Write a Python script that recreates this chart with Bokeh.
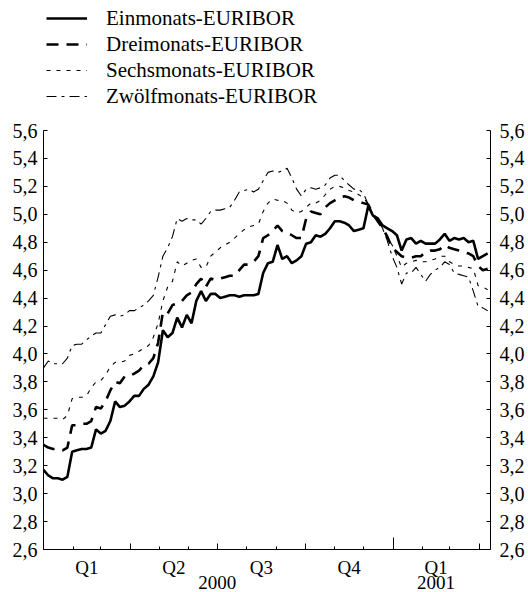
from bokeh.plotting import figure
from bokeh.models import (Range1d, LinearAxis, FixedTicker, CustomJSTickFormatter,
                          Legend, LegendItem, ColumnDataSource)
from bokeh.embed import file_html
from bokeh.resources import INLINE

# ---- data: days since 1 Jan 2000 (5-day sampling), values in % ----
day = list(range(0, 466, 5))

euribor_1m = [3.17, 3.13, 3.11, 3.11, 3.10, 3.12, 3.30, 3.31, 3.32, 3.32,
              3.33, 3.46, 3.43, 3.45, 3.52, 3.66, 3.62, 3.63, 3.66, 3.70,
              3.70, 3.75, 3.78, 3.84, 3.94, 4.17, 4.12, 4.15, 4.26, 4.19,
              4.28, 4.22, 4.38, 4.45, 4.38, 4.43, 4.43, 4.40, 4.41, 4.42,
              4.42, 4.41, 4.42, 4.42, 4.42, 4.43, 4.58, 4.65, 4.66, 4.78,
              4.68, 4.70, 4.65, 4.67, 4.70, 4.79, 4.80, 4.85, 4.84, 4.86,
              4.90, 4.95, 4.95, 4.94, 4.92, 4.88, 4.89, 4.90, 5.06, 4.99,
              4.97, 4.92, 4.90, 4.88, 4.85, 4.74, 4.82, 4.83, 4.79, 4.81,
              4.79, 4.79, 4.79, 4.82, 4.86, 4.81, 4.83, 4.82, 4.83, 4.80,
              4.81, 4.68, 4.70, 4.72]

euribor_3m = [3.35, 3.33, 3.32, 3.32, 3.31, 3.33, 3.49, 3.49, 3.50, 3.50,
              3.52, 3.62, 3.61, 3.66, 3.74, 3.80, 3.79, 3.84, 3.84, 3.86,
              3.88, 3.92, 3.93, 3.97, 4.08, 4.30, 4.29, 4.35, 4.36, 4.38,
              4.42, 4.44, 4.50, 4.54, 4.48, 4.54, 4.53, 4.54, 4.55, 4.56,
              4.56, 4.60, 4.64, 4.64, 4.66, 4.70, 4.83, 4.85, 4.88, 4.92,
              4.88, 4.87, 4.85, 4.83, 4.83, 4.97, 5.02, 5.01, 5.00, 5.05,
              5.08, 5.10, 5.12, 5.13, 5.12, 5.10, 5.09, 5.08, 5.07, 5.00,
              4.95, 4.90, 4.84, 4.76, 4.73, 4.70, 4.69, 4.69, 4.70, 4.70,
              4.73, 4.74, 4.74, 4.75, 4.78, 4.76, 4.75, 4.74, 4.73, 4.72,
              4.70, 4.63, 4.60, 4.61]

euribor_6m = [3.54, 3.54, 3.54, 3.54, 3.53, 3.56, 3.68, 3.69, 3.69, 3.70,
              3.76, 3.80, 3.81, 3.85, 3.91, 3.94, 3.94, 3.95, 3.99, 4.00,
              4.02, 4.04, 4.06, 4.12, 4.22, 4.38, 4.48, 4.52, 4.66, 4.63,
              4.65, 4.67, 4.68, 4.62, 4.62, 4.70, 4.73, 4.76, 4.78, 4.80,
              4.83, 4.86, 4.89, 4.91, 4.92, 4.93, 5.02, 5.08, 5.11, 5.10,
              5.10, 5.08, 5.03, 5.01, 5.02, 5.05, 5.08, 5.08, 5.10, 5.14,
              5.18, 5.20, 5.20, 5.19, 5.17, 5.16, 5.14, 5.12, 5.07, 5.00,
              4.96, 4.90, 4.83, 4.78, 4.70, 4.62, 4.65, 4.66, 4.67, 4.66,
              4.66, 4.67, 4.68, 4.70, 4.70, 4.66, 4.64, 4.63, 4.63, 4.62,
              4.61, 4.49, 4.48, 4.46]

euribor_12m = [3.90, 3.95, 3.93, 3.93, 3.93, 3.97, 4.06, 4.07, 4.07, 4.10,
               4.13, 4.15, 4.15, 4.21, 4.27, 4.28, 4.27, 4.28, 4.31, 4.31,
               4.33, 4.35, 4.38, 4.42, 4.55, 4.70, 4.76, 4.84, 4.97, 4.95,
               4.97, 4.96, 4.96, 4.93, 4.97, 5.02, 5.03, 5.03, 5.04, 5.05,
               5.10, 5.16, 5.17, 5.18, 5.16, 5.18, 5.24, 5.30, 5.31, 5.30,
               5.31, 5.33, 5.26, 5.18, 5.13, 5.18, 5.19, 5.18, 5.19, 5.21,
               5.26, 5.28, 5.28, 5.24, 5.21, 5.18, 5.18, 5.15, 5.07, 4.99,
               4.96, 4.90, 4.81, 4.70, 4.62, 4.50, 4.58, 4.58, 4.62, 4.57,
               4.52, 4.57, 4.60, 4.62, 4.66, 4.64, 4.58, 4.57, 4.56, 4.55,
               4.45, 4.34, 4.33, 4.31]

series_names = ["Einmonats-EURIBOR", "Dreimonats-EURIBOR",
                "Sechsmonats-EURIBOR", "Zwölfmonats-EURIBOR"]

y_ticks = [2.6, 2.8, 3.0, 3.2, 3.4, 3.6, 3.8, 4.0, 4.2, 4.4, 4.6,
           4.8, 5.0, 5.2, 5.4, 5.6]
y_min, y_max = 2.6, 5.6
quarter_starts = [0, 91, 182, 274, 366, 456]
year_starts = [0, 366]
month_starts = [31, 60, 121, 152, 213, 244, 305, 335, 397, 425]
label_pos = [45.5, 136.5, 182, 228, 320, 411]
label_txt = ["Q1", "Q2", "\n2000", "Q3", "Q4", "Q1\n2001"]

FONT = "Liberation Serif"

# plotting area 2.6..5.6 spans 419 px; the frame is extended upwards
# (empty space) so that the legend can sit above the data region
PX_PER_UNIT = 419 / (y_max - y_min)
FRAME_H = 549
top_val = y_min + FRAME_H / PX_PER_UNIT

p = figure(frame_width=447, frame_height=FRAME_H,
           min_border_left=43, min_border_right=38,
           min_border_top=0, min_border_bottom=0,
           x_range=Range1d(0, 468), y_range=Range1d(y_min, top_val),
           x_axis_location=None, y_axis_location=None,
           output_backend="svg", toolbar_location=None)
p.outline_line_color = None
p.xgrid.visible = False
p.ygrid.visible = False
p.background_fill_color = "white"
p.border_fill_color = "white"

src = ColumnDataSource(dict(day=day, m1=euribor_1m, m3=euribor_3m,
                            m6=euribor_6m, m12=euribor_12m))
r1 = p.line("day", "m1", source=src, line_color="black", line_width=2.6)
r3 = p.line("day", "m3", source=src, line_color="black", line_width=2.6,
            line_dash="12 8")
r6 = p.line("day", "m6", source=src, line_color="black", line_width=1.1,
            line_dash="4 6")
r12 = p.line("day", "m12", source=src, line_color="black", line_width=1.1,
             line_dash="10 5 3 5")

# y axes (left and right) with inward ticks and comma decimals
fmt = CustomJSTickFormatter(code="return tick.toFixed(1).replace('.', ',');")
for side, standoff in (("left", 6), ("right", 9)):
    ax = LinearAxis(ticker=FixedTicker(ticks=y_ticks, minor_ticks=[]),
                    formatter=fmt, bounds=(y_min, y_max))
    ax.major_tick_in = 4
    ax.major_tick_out = 0
    ax.minor_tick_line_color = None
    ax.axis_line_color = "black"
    ax.major_tick_line_color = "black"
    ax.major_label_text_font = FONT
    ax.major_label_text_font_size = "20px"
    ax.major_label_text_color = "black"
    ax.major_label_standoff = standoff
    p.add_layout(ax, side)

# x axis: quarter ticks
axA = LinearAxis(ticker=FixedTicker(ticks=quarter_starts, minor_ticks=[]),
                 major_label_overrides={t: "" for t in quarter_starts})
axA.major_tick_in = 6
axA.major_tick_out = 0
axA.minor_tick_line_color = None
axA.major_label_text_font_size = "0px"
axA.major_label_standoff = 0
axA.axis_line_color = "black"
p.add_layout(axA, "below")

# x axis: year-boundary ticks (taller)
axB = LinearAxis(ticker=FixedTicker(ticks=year_starts, minor_ticks=[]),
                 major_label_overrides={t: "" for t in year_starts})
axB.major_tick_in = 12
axB.major_tick_out = 0
axB.minor_tick_line_color = None
axB.major_label_text_font_size = "0px"
axB.major_label_standoff = 0
axB.axis_line_color = None
p.add_layout(axB, "below")

# x axis: labels + month ticks
axC = LinearAxis(ticker=FixedTicker(ticks=label_pos, minor_ticks=month_starts),
                 major_label_overrides=dict(zip(label_pos, label_txt)))
axC.major_tick_line_color = None
axC.major_tick_in = 0
axC.major_tick_out = 0
axC.minor_tick_in = 3
axC.minor_tick_out = 0
axC.minor_tick_line_color = "black"
axC.axis_line_color = None
axC.major_label_text_font = FONT
axC.major_label_text_font_size = "19px"
axC.major_label_text_color = "black"
axC.major_label_text_line_height = 0.73
axC.major_label_standoff = 7
p.add_layout(axC, "below")

legend = Legend(items=[LegendItem(label=n, renderers=[r])
                       for n, r in zip(series_names, [r1, r3, r6, r12])],
                location=(3, FRAME_H - 5 - 104))
legend.label_text_font = FONT
legend.label_text_font_size = "21px"
legend.label_text_color = "black"
legend.glyph_width = 41
legend.glyph_height = 26
legend.label_height = 26
legend.label_standoff = 19
legend.spacing = 0
legend.padding = 0
legend.margin = 0
legend.border_line_color = None
legend.background_fill_alpha = 0
p.add_layout(legend)

open("out.html", "w").write(file_html(p, INLINE))
